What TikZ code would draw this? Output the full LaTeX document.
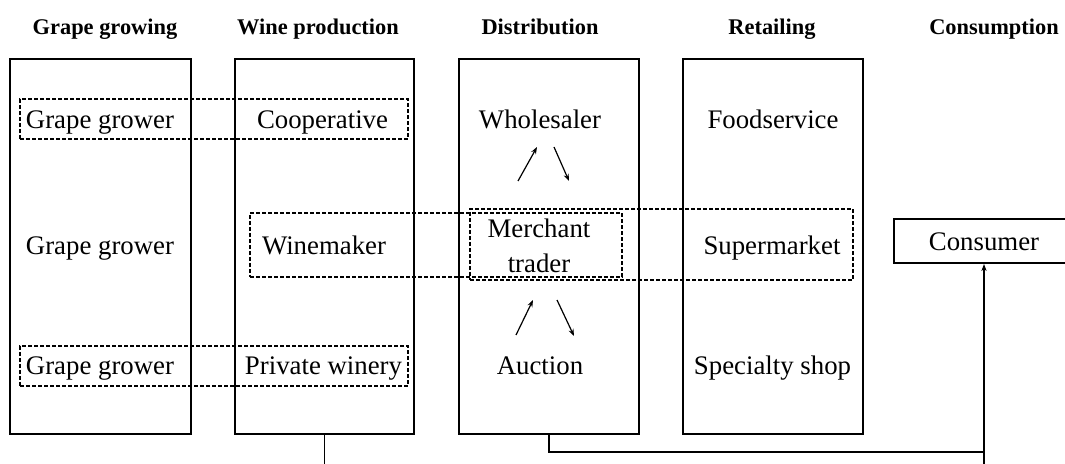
\documentclass[tikz,border=0pt]{standalone}
\usepackage{fontspec}
\setmainfont{Liberation Serif}
\usetikzlibrary{arrows.meta}
\begin{document}
\begin{tikzpicture}[x=0.5pt,y=-0.5pt,
  col/.style={draw, line width=1pt, minimum height=187.5pt, minimum width=90pt, inner sep=0pt},
  grp/.style={draw, dash pattern=on 2pt off 1pt, line width=0.75pt, inner sep=0pt},
  lbl/.style={inner sep=0pt, font=\fontsize{13.4}{17.5}\selectfont, align=center, text height=9.4pt, text depth=2.9pt},
  lbl2/.style={inner sep=0pt, font=\fontsize{13.4}{17.5}\selectfont, align=center},
  hdr/.style={inner sep=0pt, font=\fontsize{11.2}{13}\selectfont\bfseries, text height=7.8pt, text depth=2.4pt},
  conn/.style={line width=0.75pt},
  tip/.style={-{Stealth[length=3.5pt,width=2.6pt]}, line width=0.6pt}]
\useasboundingbox (0,0) rectangle (1065,464);

% headers
\node[hdr] (h1) at (105,29) {Grape growing};
\node[hdr] (h2) at (318,29) {Wine production};
\node[hdr] (h3) at (540,29) {Distribution};
\node[hdr] (h4) at (772,29) {Retailing};
\node[hdr] (h5) at (994,29) {Consumption};

% column boxes
\node[col, minimum width=90.5pt] (c1) at (100.5,246.5) {};
\node[col, minimum width=89.5pt] (c2) at (324.5,246.5) {};
\node[col] (c3) at (549,246.5) {};
\node[col] (c4) at (773,246.5) {};
\node[col, minimum height=22pt, minimum width=90pt] (cons) at (984,241) {};

% dashed groupings
\node[grp, minimum width=194pt, minimum height=20pt] (g1) at (214,119) {};
\node[grp, minimum width=194pt, minimum height=20pt] (g3) at (214,366) {};
\node[grp, minimum width=186pt, minimum height=32pt] (ga) at (436,245) {};
\node[grp, minimum width=191.5pt, minimum height=35.5pt] (gb) at (661.5,244.5) {};

% labels
\node[lbl] (gg1) at (100,122) {Grape grower};
\node[lbl] (coop) at (322.5,122) {Cooperative};
\node[lbl] (whole) at (540,122) {Wholesaler};
\node[lbl] (food) at (773,122) {Foodservice};

\node[lbl] (gg2) at (100,248) {Grape grower};
\node[lbl] (wine) at (324,248) {Winemaker};
\node[lbl2] (merch) at (539,246) {Merchant\\trader};
\node[lbl] (super) at (772,248) {Supermarket};
\node[lbl] (consumer) at (984,244) {Consumer};

\node[lbl] (gg3) at (100,368) {Grape grower};
\node[lbl] (priv) at (323.5,368) {Private winery};
\node[lbl] (auct) at (540,368) {Auction};
\node[lbl] (spec) at (772.5,368) {Specialty shop};

% small arrows in distribution
\coordinate (a1s) at (518,181); \coordinate (a1e) at (537,147);
\coordinate (a2s) at (554,147); \coordinate (a2e) at (569,181);
\coordinate (a3s) at (516,335); \coordinate (a3e) at (533,300);
\coordinate (a4s) at (557,300); \coordinate (a4e) at (574,336);
\draw[tip] (a1s) -- (a1e);
\draw[tip] (a2s) -- (a2e);
\draw[tip] (a3s) -- (a3e);
\draw[tip] (a4s) -- (a4e);

% connectors at bottom
\coordinate (bot2) at (324.5,470);
\coordinate (bot5) at (984,470);
\coordinate (join) at (984,452);
\draw[conn] (c2.south) -- (bot2);
\draw[conn] (c3.south) |- (join);
\draw[conn, -{Stealth[length=3.5pt,width=2.6pt]}] (bot5) -- (cons.south);
\end{tikzpicture}
\end{document}
